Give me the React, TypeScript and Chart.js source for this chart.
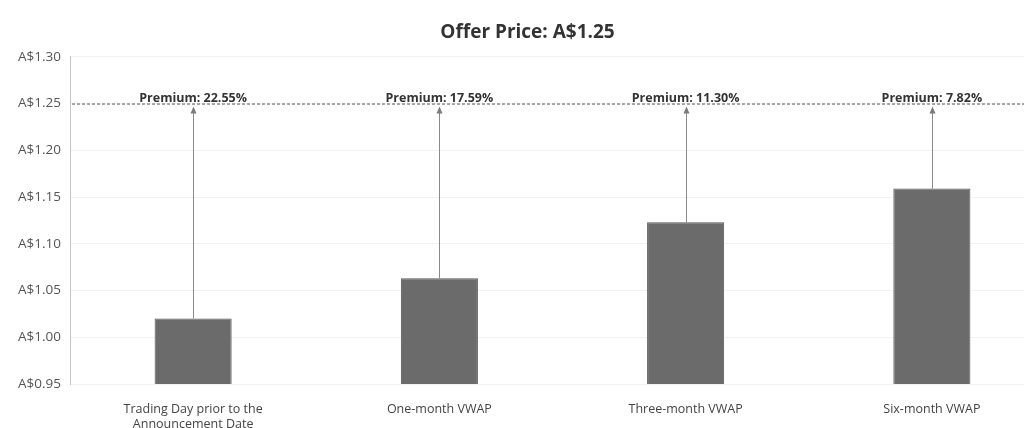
import React, { useEffect, useRef } from "react";
import { Chart, registerables } from "chart.js";

Chart.register(...registerables);

const categories: (string | string[])[] = [
  ["Trading Day prior to the", "Announcement Date"],
  "One-month VWAP",
  "Three-month VWAP",
  "Six-month VWAP",
];
const vwapValues = [1.02, 1.063, 1.123, 1.159];
const premiumLabels = ["Premium: 22.55%", "Premium: 17.59%", "Premium: 11.30%", "Premium: 7.82%"];
const offerPrice = 1.25;
const yMin = 0.95;
const yMax = 1.3;
const yStep = 0.05;
const titleText = "Offer Price: A$1.25";

const FONT = "'Open Sans', 'Noto Sans', sans-serif";

const overlayPlugin = {
  id: "offerOverlay",
  afterDatasetsDraw(chart: any) {
    const { ctx, chartArea, scales } = chart;
    const y = scales.y;
    const x = scales.x;
    const yOffer = y.getPixelForValue(offerPrice);
    ctx.save();
    ctx.strokeStyle = "#555";
    ctx.lineWidth = 1;
    ctx.setLineDash([3, 2]);
    ctx.beginPath();
    ctx.moveTo(chartArea.left + 2, yOffer + 0.5);
    ctx.lineTo(chart.width, yOffer + 0.5);
    ctx.stroke();
    ctx.setLineDash([]);
    const meta = chart.getDatasetMeta(0);
    vwapValues.forEach((v, i) => {
      const bar = meta.data[i];
      const cx = Math.round(bar.x) + 0.5;
      const yTop = y.getPixelForValue(v);
      const headY = yOffer + 3;
      ctx.strokeStyle = "#8a8a8a";
      ctx.lineWidth = 1;
      ctx.beginPath();
      ctx.moveTo(cx, yTop);
      ctx.lineTo(cx, headY + 6);
      ctx.stroke();
      ctx.fillStyle = "#7a7a7a";
      ctx.beginPath();
      ctx.moveTo(cx, headY);
      ctx.lineTo(cx - 3, headY + 7);
      ctx.lineTo(cx + 3, headY + 7);
      ctx.closePath();
      ctx.fill();
      ctx.fillStyle = "#333";
      ctx.font = `bold 12.5px ${FONT}`;
      ctx.textAlign = "center";
      ctx.textBaseline = "bottom";
      ctx.fillText(premiumLabels[i], x.getPixelForValue(i), yOffer + 1);
    });
    ctx.restore();
  },
};

export default function App() {
  const ref = useRef<HTMLCanvasElement | null>(null);
  useEffect(() => {
    if (!ref.current) return;
    const chart = new Chart(ref.current, {
      type: "bar",
      data: {
        labels: categories,
        datasets: [
          {
            data: vwapValues,
            backgroundColor: "#6b6b6b",
            borderColor: "#585858",
            borderWidth: 1,
            barPercentage: 0.313,
            categoryPercentage: 1,
          },
        ],
      },
      options: {
        animation: false,
        responsive: false,
        layout: { padding: { left: 0, right: 5, top: 0, bottom: 0 } },
        plugins: {
          legend: { display: false },
          tooltip: { enabled: false },
          title: {
            display: true,
            text: titleText,
            color: "#333",
            font: { family: FONT, size: 19, weight: "bold" },
            padding: { top: 21, bottom: 13 },
          },
        },
        scales: {
          x: {
            grid: { display: false },
            border: { display: false },
            ticks: {
              color: "#444",
              font: { family: FONT, size: 12.5, lineHeight: 1.2 },
              padding: 10,
              maxRotation: 0,
              autoSkip: false,
            },
            afterFit: (s: any) => {
              s.height = 44;
            },
          },
          y: {
            min: yMin,
            max: yMax,
            grid: { color: "rgba(0,0,0,0.05)", drawTicks: false },
            border: { display: true, color: "#c4c4c4" },
            ticks: {
              stepSize: yStep,
              color: "#555",
              padding: 9,
              font: { family: FONT, size: 13.5 },
              callback: (v: any) => "A$" + Number(v).toFixed(2),
            },
            afterFit: (s: any) => {
              s.width = 70;
            },
          },
        },
      },
      plugins: [overlayPlugin],
    });
    return () => chart.destroy();
  }, []);
  return (
    <div
      style={{
        position: "fixed",
        left: 0,
        top: 0,
        width: 1024,
        height: 428,
        overflow: "hidden",
        background: "#fff",
      }}
    >
      <canvas ref={ref} width={1060} height={428} style={{ display: "block" }} />
    </div>
  );
}
